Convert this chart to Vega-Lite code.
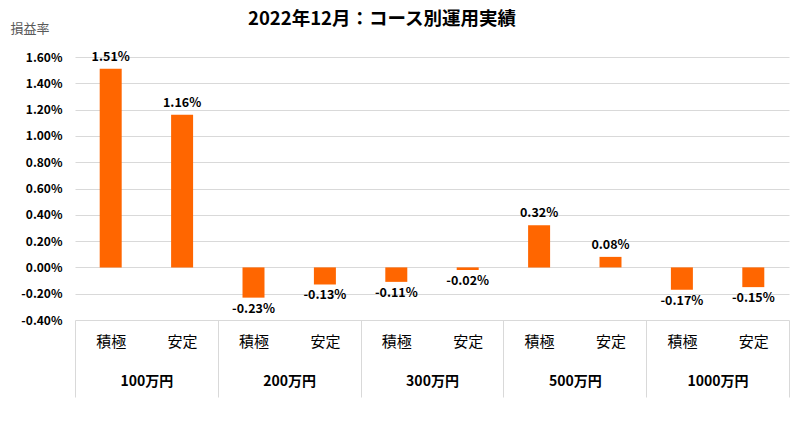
{
  "$schema": "https://vega.github.io/schema/vega-lite/v6.json",
  "width": 714,
  "height": 263,
  "autosize": {"type": "none"},
  "padding": {"left": 75, "top": 57, "right": 4, "bottom": 105},
  "background": "white",
  "title": {
    "text": "2022年12月：コース別運用実績",
    "font": "Noto Sans CJK JP",
    "fontSize": 18.5,
    "fontWeight": "bold",
    "color": "#000000",
    "anchor": "middle",
    "dx": -50,
    "offset": -6
  },
  "config": {
    "view": {"stroke": null},
    "font": "Noto Sans CJK JP",
    "locale": {
      "number": {"decimal": ".", "thousands": ",", "grouping": [3], "currency": ["", ""], "minus": "-"}
    },
    "axisY": {
      "title": "損益率",
      "titleAngle": 0,
      "titleAlign": "left",
      "titleBaseline": "middle",
      "titleX": -65,
      "titleY": -29,
      "titleFont": "Noto Sans CJK JP",
      "titleFontSize": 13,
      "titleFontWeight": "normal",
      "titleColor": "#595959",
      "format": ".2%",
      "tickCount": 20,
      "labelOverlap": false,
      "domain": false,
      "ticks": false,
      "grid": true,
      "gridColor": "#d9d9d9",
      "labelPadding": 13,
      "labelFont": "Noto Sans CJK JP",
      "labelFontSize": 12,
      "labelFontWeight": "bold",
      "labelColor": "#000000"
    }
  },
  "data": {
    "values": [
      {"group": "100万円", "course": "積極", "key": "100万円 積極", "value": 0.0151},
      {"group": "100万円", "course": "安定", "key": "100万円 安定", "value": 0.0116},
      {"group": "200万円", "course": "積極", "key": "200万円 積極", "value": -0.0023},
      {"group": "200万円", "course": "安定", "key": "200万円 安定", "value": -0.0013},
      {"group": "300万円", "course": "積極", "key": "300万円 積極", "value": -0.0011},
      {"group": "300万円", "course": "安定", "key": "300万円 安定", "value": -0.0002},
      {"group": "500万円", "course": "積極", "key": "500万円 積極", "value": 0.0032},
      {"group": "500万円", "course": "安定", "key": "500万円 安定", "value": 0.0008},
      {"group": "1000万円", "course": "積極", "key": "1000万円 積極", "value": -0.0017},
      {"group": "1000万円", "course": "安定", "key": "1000万円 安定", "value": -0.0015}
    ]
  },
  "layer": [
    {
      "mark": {"type": "bar", "color": "#FF6600"},
      "encoding": {
        "x": {
          "field": "group",
          "type": "nominal",
          "sort": null,
          "scale": {"paddingInner": 0, "paddingOuter": 0},
          "axis": {
            "orient": "bottom",
            "title": null,
            "domain": false,
            "ticks": true,
            "tickBand": "extent",
            "tickSize": 77,
            "tickColor": "#d9d9d9",
            "tickWidth": 1,
            "labelPadding": -23,
            "labelAngle": 0,
            "labelFont": "Noto Sans CJK JP",
            "labelFontSize": 14,
            "labelFontWeight": "bold",
            "labelColor": "#000000",
            "grid": false
          }
        },
        "xOffset": {
          "field": "course",
          "type": "nominal",
          "sort": null,
          "scale": {"paddingInner": 0.692, "paddingOuter": 0.346}
        },
        "y": {
          "field": "value",
          "type": "quantitative",
          "scale": {"domain": [-0.004, 0.016], "nice": false, "zero": false},
          "axis": {
            "title": "損益率",
            "tickCount": 20,
            "values": [-0.004, -0.002, 0, 0.002, 0.004, 0.006, 0.008, 0.01, 0.012, 0.014, 0.016]
          }
        }
      }
    },
    {
      "encoding": {
        "x": {
          "field": "key",
          "type": "nominal",
          "sort": null,
          "scale": {
            "domain": ["100万円 積極", "100万円 安定", "200万円 積極", "200万円 安定", "300万円 積極", "300万円 安定", "500万円 積極", "500万円 安定", "1000万円 積極", "1000万円 安定"],
            "paddingInner": 0,
            "paddingOuter": 0
          },
          "axis": {
            "orient": "bottom",
            "title": null,
            "domain": false,
            "ticks": false,
            "grid": false,
            "labelAngle": 0,
            "labelPadding": 14,
            "labelExpr": "split(datum.label, ' ')[1]",
            "labelFont": "Noto Sans CJK JP",
            "labelFontSize": 15,
            "labelFontWeight": "normal",
            "labelColor": "#000000"
          }
        },
        "y": {
          "field": "value",
          "type": "quantitative",
          "axis": {
            "title": "損益率",
            "tickCount": 20,
            "values": [-0.004, -0.002, 0, 0.002, 0.004, 0.006, 0.008, 0.01, 0.012, 0.014, 0.016]
          }
        },
        "text": {"field": "value", "type": "quantitative", "format": ".2%"}
      },
      "layer": [
        {
          "transform": [{"filter": "datum.value >= 0"}],
          "mark": {"type": "text", "baseline": "bottom", "dy": -5, "fontSize": 12.5, "fontWeight": "bold", "color": "#000000", "font": "Noto Sans CJK JP"}
        },
        {
          "transform": [{"filter": "datum.value < 0"}],
          "mark": {"type": "text", "baseline": "top", "dy": 5, "fontSize": 12.5, "fontWeight": "bold", "color": "#000000", "font": "Noto Sans CJK JP"}
        }
      ]
    }
  ],
  "resolve": {"scale": {"x": "independent"}, "axis": {"x": "independent"}}
}
